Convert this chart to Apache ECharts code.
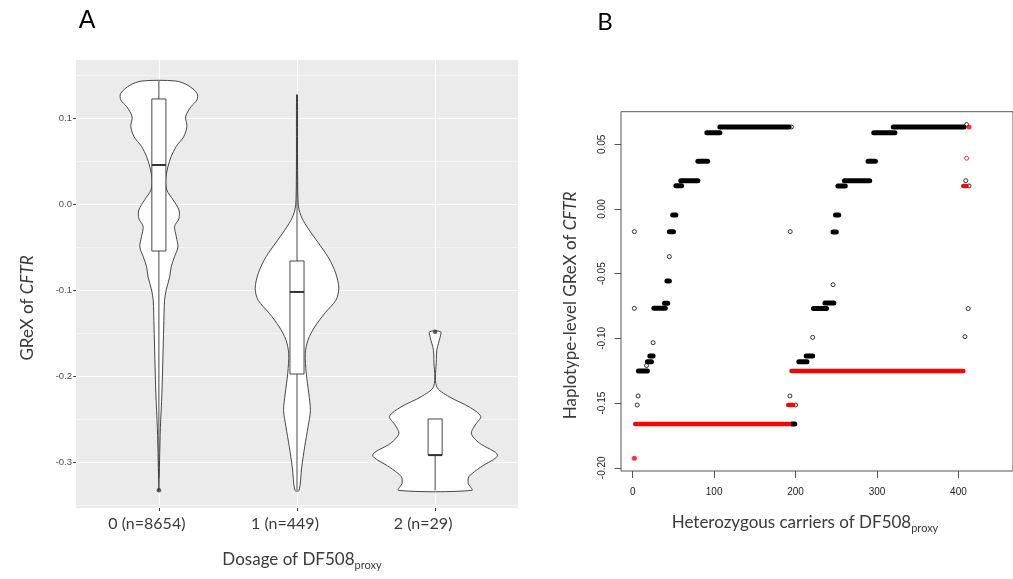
<!DOCTYPE html>
<html>
<head>
<meta charset="utf-8">
<script src="https://cdn.jsdelivr.net/npm/echarts@6.0.0/dist/echarts.min.js"></script>
<style>
  html, body { margin: 0; padding: 0; background: #fff; }
  #chart { width: 1013px; height: 579px; }
</style>
</head>
<body>
<div id="chart"></div>
<script>
// ---- panel A: violin + box per dosage group ----
const groupX = [1, 2, 3];
const groupLabels = ["0 (n=8654)", "1 (n=449)", "2 (n=29)"];
const yTicksA = [-0.3, -0.2, -0.1, 0.0, 0.1];
const yMinorA = [-0.35, -0.25, -0.15, -0.05, 0.05, 0.15];

// violin outlines: GReX value and half width (x-axis units)
const violinY0 = [0.143, 0.138, 0.1287, 0.121, 0.113, 0.1015, 0.090, 0.078, 0.067, 0.055, 0.043, 0.028, 0.016, 0.005, -0.007, -0.017, -0.026, -0.038, -0.050, -0.061, -0.073, -0.085, -0.100, -0.112, -0.143, -0.180, -0.220, -0.260, -0.298, -0.333];
const violinW0 = [0.121, 0.210, 0.276, 0.276, 0.232, 0.194, 0.203, 0.179, 0.126, 0.089, 0.065, 0.049, 0.058, 0.102, 0.145, 0.145, 0.114, 0.126, 0.138, 0.114, 0.089, 0.078, 0.053, 0.041, 0.035, 0.029, 0.022, 0.011, 0.005, 0];
const violinY1 = [0.127, 0.05, 0.005, -0.007, -0.019, -0.034, -0.050, -0.065, -0.081, -0.098, -0.112, -0.127, -0.143, -0.158, -0.174, -0.197, -0.220, -0.240, -0.259, -0.282, -0.306, -0.333];
const violinW1 = [0.003, 0.004, 0.007, 0.015, 0.044, 0.104, 0.176, 0.237, 0.281, 0.303, 0.281, 0.201, 0.128, 0.080, 0.060, 0.067, 0.085, 0.097, 0.080, 0.056, 0.034, 0.015];
const violinY2 = [-0.1485, -0.155, -0.162, -0.170, -0.181, -0.212, -0.224, -0.236, -0.247, -0.257, -0.267, -0.278, -0.292, -0.306, -0.317, -0.325, -0.333];
const violinW2 = [0.040, 0.036, 0.024, 0.012, 0.009, 0.010, 0.100, 0.247, 0.330, 0.290, 0.262, 0.320, 0.452, 0.330, 0.245, 0.240, 0.266];

// box stats: [lower whisker, Q1, median, Q3, upper whisker]
const boxStats = [
  [-0.318, -0.0547, 0.0453, 0.1221, 0.143],
  [-0.333, -0.1977, -0.1023, -0.0663, 0.127],
  [-0.333, -0.292, -0.292, -0.250, -0.250]
];
const outliersA = [[1, -0.333], [3, -0.1485]];

// ---- panel B: haplotype-level GReX of heterozygous carriers ----
const xTicksB = [0, 100, 200, 300, 400];
const yTicksB = [-0.20, -0.15, -0.10, -0.05, 0.00, 0.05];
// runs of carriers sharing one value: [first carrier, last carrier, GReX]
const blackRuns = [
  [7, 18, -0.1252], [18, 23, -0.118], [21, 25, -0.1136], [26, 40, -0.0768],
  [39, 43, -0.0729], [42, 45, -0.0556], [45, 50, -0.0175], [49, 53, -0.0046],
  [53, 60, 0.018], [59, 80, 0.0219], [80, 92, 0.0369], [91, 107, 0.059],
  [107, 192, 0.0634], [195, 199, -0.1661], [204, 214, -0.118], [213, 221, -0.1136],
  [222, 238, -0.077], [236, 247, -0.0727], [246, 250, -0.0178], [249, 253, -0.0046],
  [252, 261, 0.0178], [260, 291, 0.0219], [289, 298, 0.0369], [296, 322, 0.059],
  [320, 407, 0.0634]
];
const redRuns = [
  [3, 192, -0.1661], [191, 197, -0.1515], [195, 406, -0.1252], [406, 410, 0.0178]
];
const redDots = [[2, -0.1927], [413, 0.0634]];
const blackSingles = [
  [2, -0.0175], [2, -0.0768], [5.5, -0.1515], [6.6, -0.1445], [17, -0.121],
  [25, -0.1033], [45, -0.0368], [195, 0.0634], [193.4, -0.0175], [193, -0.1445],
  [200, -0.1515], [221, -0.0992], [246, -0.0585], [410, 0.0652], [409, 0.0219],
  [413, 0.0178], [412, -0.077], [408, -0.0987]
];
const redSingles = [[410, 0.0392]];

const violinYs = [violinY0, violinY1, violinY2];
const violinWs = [violinW0, violinW1, violinW2];

const txt = "#3a3a3a";
const sans = "Lato";

const chart = echarts.init(document.getElementById("chart"));

function renderViolin(params, api) {
  const i = params.dataIndex;
  const gx = api.value(0);
  const ys = violinYs[i], ws = violinWs[i];
  const pts = [];
  for (let k = 0; k < ys.length; k++) pts.push(api.coord([gx + ws[k], ys[k]]));
  for (let k = ys.length - 1; k >= 0; k--) pts.push(api.coord([gx - ws[k], ys[k]]));
  return {
    type: "polygon",
    shape: { points: pts, smooth: 0.3 },
    style: { fill: "#fff", stroke: "#333", lineWidth: 0.9 }
  };
}

function renderBox(params, api) {
  const s = boxStats[params.dataIndex];
  const gx = api.value(0);
  const hw = 0.051;
  const lo = api.coord([gx, s[0]]), q1 = api.coord([gx, s[1]]);
  const q3 = api.coord([gx, s[3]]), hi = api.coord([gx, s[4]]);
  const l = api.coord([gx - hw, s[2]]), r = api.coord([gx + hw, s[2]]);
  const st = { stroke: "#333", lineWidth: 0.9, fill: "#fff" };
  return {
    type: "group",
    children: [
      { type: "line", shape: { x1: lo[0], y1: lo[1], x2: q1[0], y2: q1[1] }, style: st },
      { type: "line", shape: { x1: q3[0], y1: q3[1], x2: hi[0], y2: hi[1] }, style: st },
      { type: "rect", shape: { x: l[0], y: q3[1], width: r[0] - l[0], height: q1[1] - q3[1] }, style: st },
      { type: "line", shape: { x1: l[0], y1: l[1], x2: r[0], y2: r[1] }, style: { stroke: "#333", lineWidth: 2 } }
    ]
  };
}

function runRenderer(color, width) {
  return function (params, api) {
    const a = api.coord([api.value(0), api.value(2)]);
    const b = api.coord([api.value(1), api.value(2)]);
    return {
      type: "line",
      shape: { x1: a[0], y1: a[1], x2: b[0], y2: b[1] },
      style: { stroke: color, lineWidth: width, lineCap: "round" }
    };
  };
}

const subRich = {
  m: { fontFamily: sans, fontSize: 17, color: txt, lineHeight: 22 },
  s: { fontFamily: sans, fontSize: 11, color: txt, lineHeight: 11, verticalAlign: "bottom" }
};
const italRich = {
  m: { fontFamily: sans, fontSize: 17, color: txt },
  i: { fontFamily: sans, fontSize: 17, color: txt, fontStyle: "italic" }
};

chart.setOption({
  animation: false,
  graphic: [
    { type: "text", x: 87, y: 21, style: { text: "A", font: "25px 'Liberation Sans'", fill: "#000", align: "center", verticalAlign: "middle" } },
    { type: "text", x: 605, y: 22, style: { text: "B", font: "24px Lato", fill: "#000", align: "center", verticalAlign: "middle" } }
  ],
  grid: [
    { left: 76, top: 60, right: 495, bottom: 71, show: true, backgroundColor: "#ebebeb", borderWidth: 0 },
    { left: 621, top: 111.7, right: -44, bottom: 108, show: true, borderColor: "#555", borderWidth: 1 }
  ],
  xAxis: [
    {
      type: "value", gridIndex: 0, min: 0.4, max: 3.6,
      name: "{m|Dosage of DF508}{s|proxy}",
      nameLocation: "middle", nameGap: 41,
      nameTextStyle: { padding: [0, 0, 0, 10], rich: subRich },
      axisLine: { show: false, onZero: false },
      axisTick: { show: true, length: 3, lineStyle: { color: "#333" }, customValues: groupX },
      axisLabel: {
        customValues: groupX, margin: 8, fontFamily: sans, fontSize: 16, color: txt,
        padding: [0, 24, 0, 0],
        formatter: function (v) { return groupLabels[groupX.indexOf(Math.round(v))]; }
      },
      splitLine: { show: true, lineStyle: { color: "#fff", width: 1.1 } }
    },
    {
      type: "value", gridIndex: 1, min: -14.4, max: 467,
      name: "{m|Heterozygous carriers of DF508}{s|proxy}",
      nameLocation: "middle", nameGap: 41,
      nameTextStyle: { padding: [0, 24, 0, 0], rich: subRich },
      axisLine: { show: false, onZero: false },
      axisTick: { show: true, length: 7, lineStyle: { color: "#555" }, customValues: xTicksB },
      axisLabel: { customValues: xTicksB, margin: 16, fontFamily: "Liberation Sans", fontSize: 10, color: "#222" },
      splitLine: { show: false }
    }
  ],
  yAxis: [
    {
      type: "value", gridIndex: 0, min: -0.3535, max: 0.1674, position: "left",
      name: "{m|GReX of }{i|CFTR}",
      nameLocation: "middle", nameGap: 40,
      nameTextStyle: { padding: [0, 48, 0, 0], rich: italRich },
      axisLine: { show: false, onZero: false },
      axisTick: { show: true, length: 2.7, lineStyle: { color: "#333" }, customValues: yTicksA },
      axisLabel: {
        customValues: yTicksA, margin: 4, fontFamily: "Liberation Sans", fontSize: 9.5, color: "#4d4d4d",
        formatter: function (v) { return v.toFixed(1); }
      },
      splitLine: { show: true, lineStyle: { color: "#fff", width: 1.1 } }
    },
    {
      type: "value", gridIndex: 0, min: -0.3535, max: 0.1674, position: "left",
      axisLine: { show: false, onZero: false },
      axisTick: { show: false, customValues: yMinorA },
      axisLabel: { show: false },
      splitLine: { show: true, lineStyle: { color: "#fff", width: 0.5 } }
    },
    {
      type: "value", gridIndex: 1, min: -0.2025, max: 0.0752,
      name: "{m|Haplotype-level GReX of }{i|CFTR}",
      nameLocation: "middle", nameGap: 42,
      nameTextStyle: { padding: [0, 28, 0, 0], rich: italRich },
      axisLine: { show: false, onZero: false },
      axisTick: { show: true, length: 6.5, lineStyle: { color: "#555" }, customValues: yTicksB },
      axisLabel: {
        customValues: yTicksB, rotate: 90, margin: 14, fontFamily: "Liberation Sans", fontSize: 10, color: "#222",
        formatter: function (v) { return v.toFixed(2); }
      },
      splitLine: { show: false }
    }
  ],
  series: [
    {
      type: "custom", xAxisIndex: 0, yAxisIndex: 0,
      data: groupX.map(function (x, i) { return [x, boxStats[i][2]]; }),
      encode: { x: 0, y: 1 },
      renderItem: renderViolin, z: 2
    },
    {
      type: "custom", xAxisIndex: 0, yAxisIndex: 0,
      data: groupX.map(function (x, i) { return [x, boxStats[i][2]]; }),
      encode: { x: 0, y: 1 },
      renderItem: renderBox, z: 3
    },
    {
      type: "scatter", xAxisIndex: 0, yAxisIndex: 0, data: outliersA,
      symbol: "circle", symbolSize: 4.5, itemStyle: { color: "#333" }, z: 4
    },
    {
      type: "custom", xAxisIndex: 1, yAxisIndex: 2, data: blackRuns,
      encode: { x: [0, 1], y: 2 }, renderItem: runRenderer("#000", 5), z: 2
    },
    {
      type: "scatter", xAxisIndex: 1, yAxisIndex: 2, data: blackSingles,
      symbol: "circle", symbolSize: 4,
      itemStyle: { color: "rgba(0,0,0,0)", borderColor: "#000", borderWidth: 1 }, z: 3
    },
    {
      type: "custom", xAxisIndex: 1, yAxisIndex: 2, data: redRuns,
      encode: { x: [0, 1], y: 2 }, renderItem: runRenderer("#f00", 4.5), z: 4
    },
    {
      type: "scatter", xAxisIndex: 1, yAxisIndex: 2, data: redDots,
      symbol: "circle", symbolSize: 5, itemStyle: { color: "#f00" }, z: 5
    },
    {
      type: "scatter", xAxisIndex: 1, yAxisIndex: 2, data: redSingles,
      symbol: "circle", symbolSize: 4,
      itemStyle: { color: "rgba(0,0,0,0)", borderColor: "#f00", borderWidth: 1 }, z: 5
    }
  ]
});
</script>
</body>
</html>
